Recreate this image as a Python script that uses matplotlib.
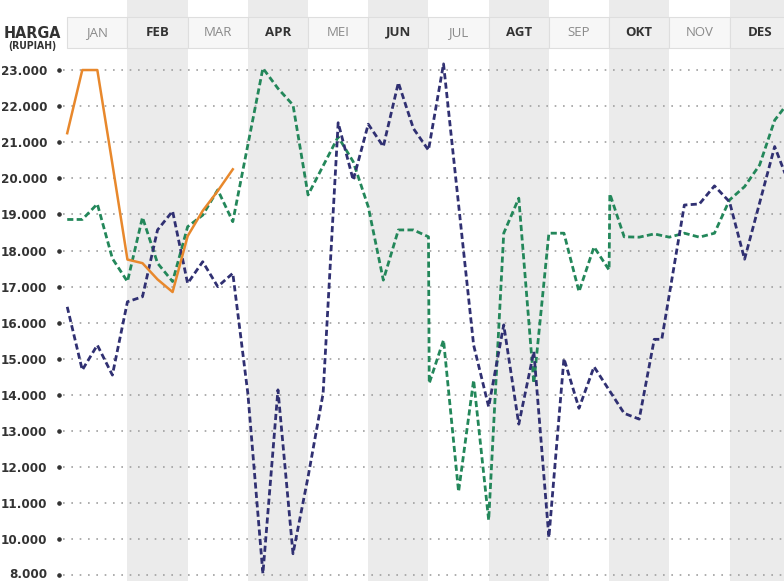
import numpy as np
import matplotlib.pyplot as plt
from matplotlib import font_manager
from matplotlib.transforms import blended_transform_factory, offset_copy
from matplotlib.patches import Rectangle

# weekly index: month m covers weeks 4m .. 4m+4
months = ["JAN", "FEB", "MAR", "APR", "MEI", "JUN", "JUL", "AGT", "SEP", "OKT", "NOV", "DES"]
y_ticks = [8000, 10000, 11000, 12000, 13000, 14000, 15000, 16000, 17000,
           18000, 19000, 20000, 21000, 22000, 23000]

navy_x = [0, 1, 2, 3, 4, 5, 6, 7, 8, 9, 10, 11, 12, 13, 14, 15, 16, 17, 18, 19, 20,
          21, 22, 23, 24, 25, 27, 28, 29, 30, 31, 32, 33, 34, 35, 37, 38, 39, 39.5,
          41, 42, 43, 44, 45, 47, 48]
navy_y = [16440, 14690, 15380, 14550, 16580, 16720, 18570, 19090, 17090, 17690, 17000,
          17370, 14040, 8100, 14140, 9200, 11730, 14040, 21540, 19950, 21500, 20880,
          22650, 21380, 20780, 23170, 15380, 13670, 15940, 13190, 15200, 10050, 15010,
          13630, 14780, 13490, 13330, 15540, 15540, 19260, 19290, 19790, 19350, 17760,
          20880, 19800]

green_x = [0, 1, 2, 3, 4, 5, 6, 7, 8, 9, 10, 11, 13, 14, 15, 16, 18, 19, 20, 21, 22,
           23, 24, 24.05, 25, 26, 27, 28, 29, 30, 31, 32, 33, 34, 35, 36, 36.05, 37,
           38, 39, 40, 41, 42, 43, 44, 45, 46, 47, 48]
green_y = [18860, 18860, 19290, 17780, 17140, 18920, 17650, 17140, 18660, 18980, 19680,
           18800, 23050, 22490, 22030, 19540, 21150, 20460, 19210, 17180, 18570, 18570,
           18380, 14320, 15520, 11320, 14410, 10530, 18480, 19450, 14320, 18480, 18480,
           16860, 18100, 17460, 19570, 18380, 18370, 18460, 18370, 18480, 18370, 18480,
           19400, 19770, 20370, 21610, 22150]

orange_x = [0, 1, 2, 3, 4, 5, 6, 7, 8, 9, 10, 11]
orange_y = [21250, 23000, 23000, 20400, 17750, 17650, 17200, 16850, 18400, 19100,
            19650, 20250]


# axis is squeezed below 10.000 (8.000 sits one step under 10.000)
def fwd(v):
    v = np.asarray(v, dtype=float)
    return np.where(v < 10000, 10000 - (10000 - v) / 2, v)


def inv(p):
    p = np.asarray(p, dtype=float)
    return np.where(p < 10000, 10000 - (10000 - p) * 2, p)


# pick a condensed bold face for the axis labels
def narrow_font(size):
    for f in font_manager.fontManager.ttflist:
        low = f.fname.lower()
        if ('narrow' in low or 'condensed' in low) and 'bold' in low and 'italic' not in low \
                and 'oblique' not in low:
            if 'liberation' in low or 'dejavusans' in low.replace('-', ''):
                return font_manager.FontProperties(fname=f.fname, size=size)
    return font_manager.FontProperties(family='DejaVu Sans', weight='bold',
                                       stretch='condensed', size=size)


fig = plt.figure(figsize=(7.84, 5.81), dpi=100)
ax = fig.add_axes([60 / 784, 0, 724 / 784, 1])
ax.set_yscale('function', functions=(fwd, inv))
ax.set_xlim(-0.48, 47.62)
ax.set_ylim(7690, 24940)

for s in ax.spines.values():
    s.set_visible(False)

# month columns
for i, m in enumerate(months):
    if i % 2 == 1:
        ax.axvspan(4 * i, 4 * i + 4, color='#ebebeb', zorder=0, lw=0)

# header row
for i, m in enumerate(months):
    fc = '#efefef' if i % 2 == 1 else '#f7f7f7'
    ax.add_patch(Rectangle((4 * i, 23609), 4, 24468 - 23609, facecolor=fc,
                           edgecolor='#dedede', lw=0.8, zorder=1))
    ax.text(4 * i + 2, 24050, m, ha='center', va='center', fontsize=9.5,
            family='Open Sans', fontweight='bold' if i % 2 == 1 else 'normal',
            color='#333333' if i % 2 == 1 else '#8a8a8a', zorder=2)

# grid
for t in y_ticks:
    ax.plot([-0.3, 48], [t, t], color='#a0a0a0', lw=1.2, ls=(0, (1, 4)), zorder=1)

trans = blended_transform_factory(ax.transAxes, ax.transData)
ax.plot([-0.0014] * len(y_ticks), y_ticks, 'o', ms=2.3, color='#333333',
        transform=trans, clip_on=False, zorder=3)

ax.set_yticks(y_ticks)
ax.set_yticklabels([f"{t:,}".replace(",", ".") for t in y_ticks])
ax.yaxis.set_minor_locator(plt.NullLocator())
ax.tick_params(axis='y', length=0, pad=9, labelcolor='#333333')
tick_font = narrow_font(9.5)
for lab in ax.get_yticklabels():
    lab.set_fontproperties(tick_font)
# keep the lowest label inside the picture
low_lab = ax.yaxis.get_major_ticks()[0].label1
low_lab.set_transform(offset_copy(low_lab.get_transform(), fig=fig, y=2, units='dots'))
ax.set_xticks([])

ax.plot(green_x, green_y, color='#23875a', lw=2.0, ls=(0, (2.2, 1.2)), zorder=4)
ax.plot(navy_x, navy_y, color='#303072', lw=2.0, ls=(0, (2.2, 1.2)), zorder=5)
ax.plot(orange_x, orange_y, color='#e8882c', lw=1.8, zorder=6)

fig.text(32 / 784, 1 - 34 / 581, "HARGA", ha='center', va='center',
         fontproperties=narrow_font(11.5), color='#333333')
fig.text(32 / 784, 1 - 46 / 581, "(RUPIAH)", ha='center', va='center',
         fontproperties=narrow_font(7.5), color='#333333')

fig.savefig('out.png', dpi=100)
